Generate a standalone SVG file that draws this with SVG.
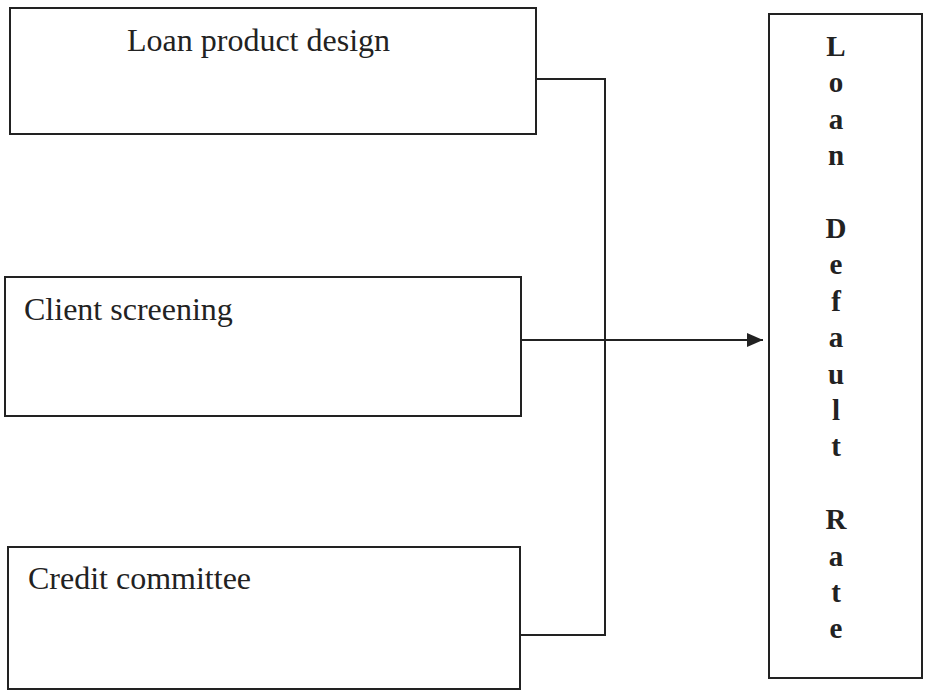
<svg xmlns="http://www.w3.org/2000/svg" width="928" height="690" viewBox="0 0 928 690">
<defs>
<style>
.box{fill:#fff;stroke:#222;stroke-width:2}
.lbl{font-family:"Liberation Serif","Times New Roman",serif;font-size:32px;fill:#222}
.vt{font-family:"Liberation Serif","Times New Roman",serif;font-size:29px;font-weight:bold;fill:#222;text-anchor:middle}
.wire{fill:none;stroke:#222;stroke-width:2}
</style>
<marker id="ah" markerWidth="16" markerHeight="14" refX="16" refY="7" orient="auto" markerUnits="userSpaceOnUse">
<path d="M0,0 L16,7 L0,14 Z" fill="#222"/>
</marker>
</defs>
<rect width="928" height="690" fill="#fff"/>
<g id="loan-product-design">
<rect class="box" x="10" y="8" width="526" height="126"/>
<text class="lbl" x="127" y="51">Loan product design</text>
</g>
<g id="client-screening">
<rect class="box" x="5" y="277" width="516" height="139"/>
<text class="lbl" x="24" y="320">Client screening</text>
</g>
<g id="credit-committee">
<rect class="box" x="8" y="547" width="512" height="142"/>
<text class="lbl" x="28" y="589">Credit committee</text>
</g>
<g id="loan-default-rate">
<rect class="box" x="769" y="14" width="153" height="664"/>
<text class="vt" x="836" y="56">L</text>
<text class="vt" x="836" y="92">o</text>
<text class="vt" x="836" y="129">a</text>
<text class="vt" x="836" y="165">n</text>
<text class="vt" x="836" y="238">D</text>
<text class="vt" x="836" y="274">e</text>
<text class="vt" x="836" y="311">f</text>
<text class="vt" x="836" y="347">a</text>
<text class="vt" x="836" y="384">u</text>
<text class="vt" x="836" y="420">l</text>
<text class="vt" x="836" y="456">t</text>
<text class="vt" x="836" y="529">R</text>
<text class="vt" x="836" y="566">a</text>
<text class="vt" x="836" y="602">t</text>
<text class="vt" x="836" y="638">e</text>
</g>
<g id="connectors">
<polyline class="wire" points="536,79 605,79 605,635 520,635"/>
<line class="wire" x1="521" y1="340" x2="763" y2="340" marker-end="url(#ah)"/>
</g>
</svg>
